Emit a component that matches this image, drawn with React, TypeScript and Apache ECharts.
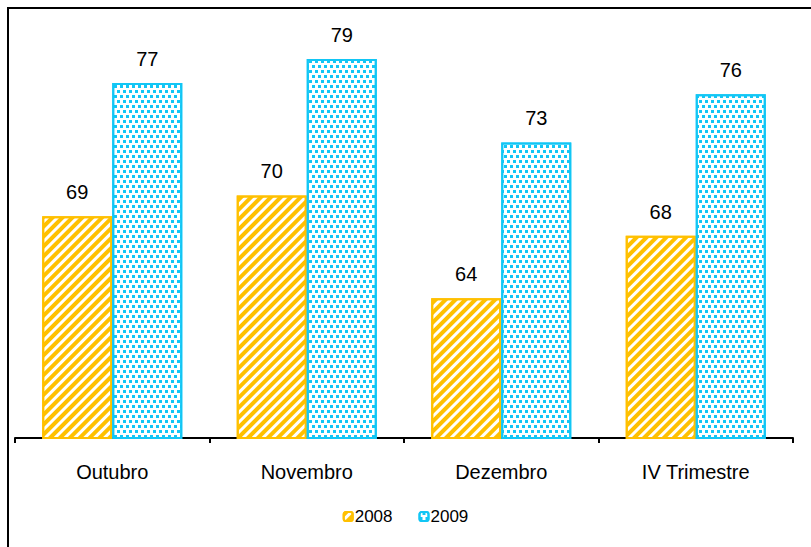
import React, { useEffect, useRef } from "react";
import * as echarts from "echarts";

const categories = ["Outubro", "Novembro", "Dezembro", "IV Trimestre"];
const seriesNames = ["2008", "2009"];
const values2008 = [68.8, 70.1, 63.7, 67.6];
const values2009 = [77.1, 78.6, 73.4, 76.4];
const yMin = 55;
const yMax = 80;

const YELLOW = "#FFC000";
const CYAN = "#12C6F5";
const FONT = "Liberation Sans";

export default function App() {
  const ref = useRef<HTMLDivElement>(null);
  useEffect(() => {
    if (!ref.current) return;
    const chart = echarts.init(ref.current, undefined, { renderer: "svg" });
    const label = {
      show: true,
      position: "top",
      distance: 14,
      color: "#000",
      fontFamily: FONT,
      fontSize: 20,
      formatter: (p: any) => String(Math.round(p.value)),
    };
    chart.setOption({
      animation: false,
      aria: { enabled: true, decal: { show: true } },
      backgroundColor: "#fff",
      textStyle: { fontFamily: FONT },
      grid: { left: 15, right: 18, top: 36.5, bottom: 109 },
      legend: {
        data: seriesNames,
        bottom: 17,
        left: "center",
        itemWidth: 9,
        itemHeight: 9,
        itemGap: 26,
        textStyle: { fontFamily: FONT, fontSize: 17, color: "#000", padding: [0, 0, 0, -3] },
      },
      xAxis: {
        type: "category",
        data: categories,
        axisLine: { lineStyle: { color: "#000", width: 2 } },
        axisTick: { show: true, length: 5, lineStyle: { color: "#000", width: 2 } },
        axisLabel: { color: "#000", fontFamily: FONT, fontSize: 20, margin: 24 },
      },
      yAxis: {
        type: "value",
        min: yMin,
        max: yMax,
        show: false,
        splitLine: { show: false },
      },
      graphic: [
        {
          type: "rect",
          shape: { x: 8, y: 8, width: 900, height: 700 },
          style: { fill: "none", stroke: "#000", lineWidth: 2 },
          z: 100,
        },
      ],
      series: [
        {
          name: seriesNames[0],
          type: "bar",
          data: values2008,
          barGap: "0%",
          barCategoryGap: "28%",
          itemStyle: {
            color: "#fff",
            borderColor: YELLOW,
            borderWidth: 2,
            decal: {
              symbol: "rect",
              symbolSize: 1,
              color: YELLOW,
              dashArrayX: [1, 0],
              dashArrayY: [3.5, 3],
              rotation: -Math.PI / 4,
            },
          },
          label,
        },
        {
          name: seriesNames[1],
          type: "bar",
          data: values2009,
          barGap: "0%",
          barCategoryGap: "28%",
          itemStyle: {
            color: "#fff",
            borderColor: CYAN,
            borderWidth: 2,
            decal: {
              symbol: "rect",
              symbolSize: 1,
              color: CYAN,
              dashArrayX: [[3, 2.5], [0, 2.5, 3, 0]],
              dashArrayY: [3, 2],
              rotation: 0,
            },
          },
          label,
        },
      ],
    });
    return () => chart.dispose();
  }, []);
  return (
    <div
      ref={ref}
      style={{ position: "absolute", left: 0, top: 0, width: 811, height: 547 }}
    />
  );
}
